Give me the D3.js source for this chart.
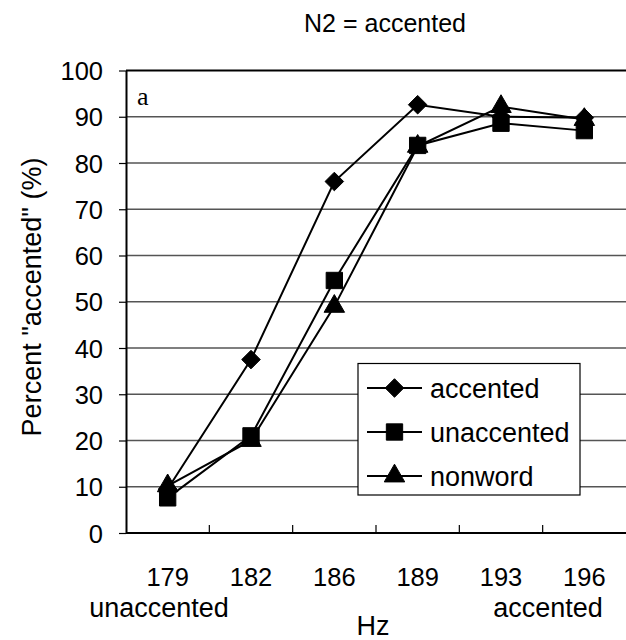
<!DOCTYPE html>
<html><head><meta charset="utf-8">
<script src="https://cdn.jsdelivr.net/npm/d3@7"></script>
<style>body{margin:0;background:#fff}svg{display:block;font-family:"Liberation Sans",Arial,sans-serif}</style>
</head><body>
<script>
const categories = ["179","182","186","189","193","196"];
const accented   = [9.5, 37.5, 76, 92.6, 90, 89.8];
const unaccented = [7.6, 21, 54.6, 83.8, 88.6, 87];
const nonword    = [10.2, 20, 49, 83.6, 92.2, 89.4];
const yTicks = [0,10,20,30,40,50,60,70,80,90,100];
const seriesNames = ["accented","unaccented","nonword"];

const W=626,H=640,FD=25.5,FW=27;
const svg=d3.select("body").append("svg").attr("width",W).attr("height",H);
const L=126,R=626,T=70.5,B=533;
const x=d3.scaleBand().domain(categories).range([L,R]);
const y=d3.scaleLinear().domain([0,100]).range([B,T]);

// gridlines
svg.append("g").selectAll("line").data(yTicks.filter(d=>d>0)).join("line")
  .attr("x1",L).attr("x2",R).attr("y1",d=>y(d)).attr("y2",d=>y(d))
  .attr("stroke",d=>d===100?"#000":"#555").attr("stroke-width",d=>d===100?1.8:1.4);

// y axis
const ya=svg.append("g").attr("transform",`translate(${L},0)`)
  .call(d3.axisLeft(y).tickValues(yTicks).tickSize(7).tickSizeOuter(0));
ya.select(".domain").attr("stroke","#000").attr("stroke-width",2);
ya.selectAll(".tick line").attr("stroke","#000").attr("stroke-width",1.2);
ya.selectAll(".tick text").attr("x",-23).attr("dy","0.36em").attr("font-size",FD).attr("fill","#000").attr("font-family","Liberation Sans, Arial, sans-serif");

// x axis
svg.append("line").attr("x1",L).attr("x2",R).attr("y1",B).attr("y2",B).attr("stroke","#000").attr("stroke-width",2);
svg.append("g").selectAll("line").data(categories.slice(1)).join("line")
  .attr("x1",d=>x(d)).attr("x2",d=>x(d)).attr("y1",B).attr("y2",B-8).attr("stroke","#000").attr("stroke-width",1.2);
svg.append("g").selectAll("text").data(categories).join("text")
  .attr("x",d=>x(d)+x.bandwidth()/2).attr("y",586).attr("text-anchor","middle").attr("font-size",FD).text(d=>d);

svg.append("text").attr("x",159).attr("y",617).attr("text-anchor","middle").attr("font-size",FW).text("unaccented");
svg.append("text").attr("x",548).attr("y",617).attr("text-anchor","middle").attr("font-size",FW).text("accented");
svg.append("text").attr("x",373).attr("y",635).attr("text-anchor","middle").attr("font-size",FW).text("Hz");
svg.append("text").attr("x",385).attr("y",32).attr("text-anchor","middle").attr("font-size",25).text("N2 = accented");
svg.append("text").attr("transform","translate(41,297) rotate(-90)").attr("text-anchor","middle").attr("font-size",FW).text('Percent "accented" (%)');
svg.append("text").attr("x",137).attr("y",105).attr("font-size",26).attr("font-family","Liberation Serif, serif").text("a");

const cx=c=>x(c)+x.bandwidth()/2;
const line=d3.line().x((d,i)=>cx(categories[i])).y(d=>y(d));
const sym={accented:d3.symbolDiamond2,unaccented:d3.symbolSquare2,nonword:d3.symbolTriangle2};
const symSize={accented:220,unaccented:340,nonword:300};
function marker(g,name,tx,ty){
  let s=d3.symbol().type(sym[name]).size(symSize[name]);
  g.append("path").attr("d",s()).attr("fill","#000").attr("stroke","#000").attr("stroke-width",1)
   .attr("transform",`translate(${tx},${ty})`);
}
const data={accented,unaccented,nonword};
seriesNames.slice().reverse().forEach(n=>{
  svg.append("path").datum(data[n]).attr("d",line).attr("fill","none").attr("stroke","#000").attr("stroke-width",2);
});
seriesNames.slice().reverse().forEach(n=>{
  const g=svg.append("g");
  data[n].forEach((v,i)=>marker(g,n,cx(categories[i]),y(v)));
});

// legend
const lg=svg.append("g");
lg.append("rect").attr("x",358).attr("y",363.5).attr("width",222).attr("height",131.5).attr("fill","#fff").attr("stroke","#000").attr("stroke-width",1.2);
seriesNames.forEach((n,i)=>{
  const ly=388+i*44;
  lg.append("line").attr("x1",367).attr("x2",422).attr("y1",ly).attr("y2",ly).attr("stroke","#000").attr("stroke-width",2);
  marker(lg,n,394.5,ly);
  lg.append("text").attr("x",430).attr("y",ly+9.5).attr("font-size",FW).text(n);
});
</script>
</body></html>
